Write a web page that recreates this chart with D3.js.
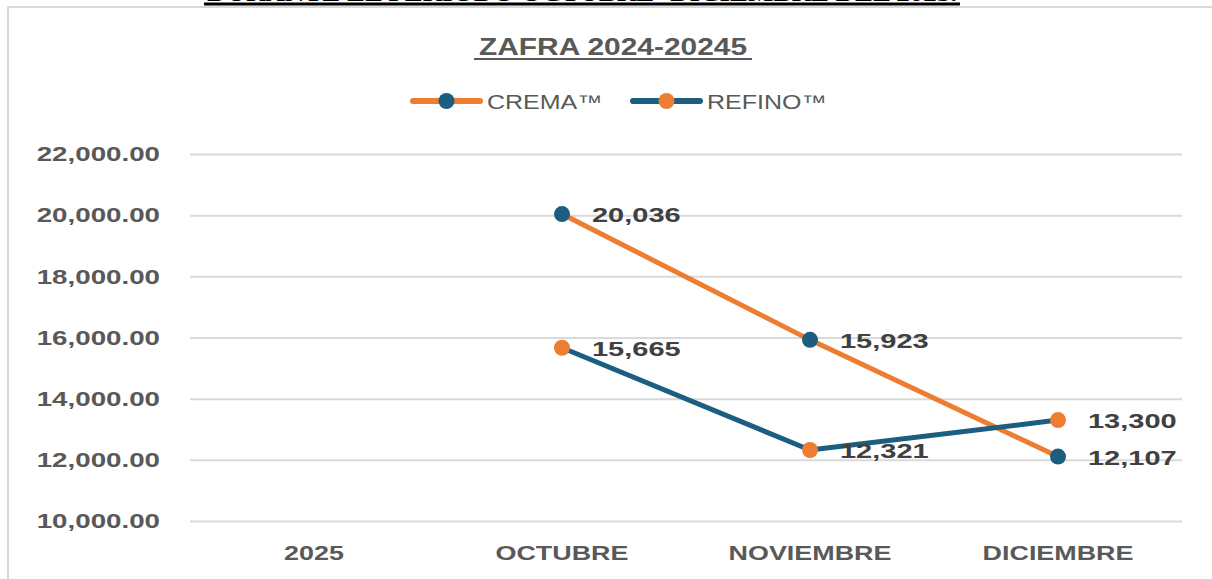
<!DOCTYPE html>
<html>
<head>
<meta charset="utf-8">
<script src="https://cdn.jsdelivr.net/npm/d3@7"></script>
<style>
    body { margin: 0; background: #fff; }
    svg { display: block; }
</style>
</head>
<body>
<svg id="chart"></svg>
<script>
// chart data
let categories = ["2025", "OCTUBRE", "NOVIEMBRE", "DICIEMBRE"];
let cremaValues = [null, 20036, 15923, 12107];
let refinoValues = [null, 15665, 12321, 13300];
let seriesNames = ["CREMA\u2122", "REFINO\u2122"];
let yTicks = [10000, 12000, 14000, 16000, 18000, 20000, 22000];
let headerText = "DURANTE EL PERIODO OCTUBRE- DICIEMBRE DEL 2025.";
let titleText = "ZAFRA 2024-20245";

let w = 1212, h = 579;
let orange = "#ED7D31", blue = "#1B5E80";

let svg = d3.select("#chart").attr("width", w).attr("height", h);

// text in the picture is wider than the fonts we have, so stretch it
function stretch(sel, k) {
    sel.each(function () {
        let len = this.getComputedTextLength();
        d3.select(this).attr("textLength", len * k).attr("lengthAdjust", "spacingAndGlyphs");
    });
}

// header cut off at the top of the image
svg.append("text")
    .attr("x", 582).attr("y", 1)
    .attr("text-anchor", "middle")
    .style("font-family", "'Liberation Serif', serif")
    .style("font-weight", "bold")
    .style("font-size", "22px")
    .attr("textLength", 750)
    .attr("lengthAdjust", "spacingAndGlyphs")
    .text(headerText);
svg.append("rect")
    .attr("x", 204).attr("y", 2.5)
    .attr("width", 756).attr("height", 3)
    .attr("fill", "#000");

// chart frame
svg.append("rect")
    .attr("x", 8).attr("y", 7)
    .attr("width", w + 20).attr("height", h + 20)
    .attr("fill", "none")
    .attr("stroke", "#d9d9d9")
    .attr("stroke-width", 2);

// title
let title = svg.append("text")
    .attr("x", 613).attr("y", 55)
    .attr("text-anchor", "middle")
    .style("font-family", "'Liberation Sans', Arial, sans-serif")
    .style("font-weight", "bold")
    .style("font-size", "23px")
    .attr("fill", "#595959")
    .text(titleText);
stretch(title, 1.3);
svg.append("rect")
    .attr("x", 474).attr("y", 58)
    .attr("width", 278).attr("height", 2)
    .attr("fill", "#595959");

// scales
let x = d3.scaleBand().domain(categories).range([190, 1182]);
let y = d3.scaleLinear().domain([10000, 22000]).range([521, 154]);
let cx = function (c) { return x(c) + x.bandwidth() / 2; };

// y axis + gridlines
let yAxis = d3.axisLeft(y)
    .tickValues(yTicks)
    .tickSize(-(1182 - 190))
    .tickPadding(30)
    .tickFormat(d3.format(",.2f"));

let gy = svg.append("g")
    .attr("transform", "translate(190,0)")
    .call(yAxis);
gy.select(".domain").remove();
gy.selectAll(".tick line")
    .attr("stroke", "#d9d9d9")
    .attr("stroke-width", 2);
gy.selectAll(".tick text")
    .attr("x", -30)
    .attr("fill", "#595959")
    .style("font-family", "'Liberation Sans', Arial, sans-serif")
    .style("font-weight", "bold")
    .style("font-size", "21px");
stretch(gy.selectAll(".tick text"), 1.32);

// x axis
let xAxis = d3.axisBottom(x).tickSize(0).tickPadding(24);
let gx = svg.append("g")
    .attr("transform", "translate(0,521)")
    .call(xAxis);
gx.select(".domain").remove();
gx.selectAll(".tick text")
    .attr("fill", "#595959")
    .style("font-family", "'Liberation Sans', Arial, sans-serif")
    .style("font-weight", "bold")
    .style("font-size", "21px");
stretch(gx.selectAll(".tick text"), 1.28);

// series
let series = [
    { name: seriesNames[0], values: cremaValues, line: orange, marker: blue },
    { name: seriesNames[1], values: refinoValues, line: blue, marker: orange }
];

let line = d3.line()
    .defined(function (d) { return d.v != null; })
    .x(function (d) { return cx(d.c); })
    .y(function (d) { return y(d.v); });

series.forEach(function (s) {
    let pts = categories.map(function (c, i) { return { c: c, v: s.values[i] }; });
    svg.append("path")
        .datum(pts)
        .attr("d", line)
        .attr("fill", "none")
        .attr("stroke", s.line)
        .attr("stroke-width", 5)
        .attr("stroke-linejoin", "round");
    s.pts = pts.filter(function (d) { return d.v != null; });
});

series.forEach(function (s) {
    svg.append("g").selectAll("circle")
        .data(s.pts)
        .enter()
        .append("circle")
        .attr("cx", function (d) { return cx(d.c); })
        .attr("cy", function (d) { return y(d.v); })
        .attr("r", 8)
        .attr("fill", s.marker);
});

series.forEach(function (s) {
    let labels = svg.append("g").selectAll("text")
        .data(s.pts)
        .enter()
        .append("text")
        .attr("x", function (d) { return cx(d.c) + 30; })
        .attr("y", function (d) { return y(d.v) + 8; })
        .attr("fill", "#404040")
        .style("font-family", "'Liberation Sans', Arial, sans-serif")
        .style("font-weight", "bold")
        .style("font-size", "21px")
        .text(function (d) { return d3.format(",")(d.v); });
    stretch(labels, 1.38);
});

// legend
let legendX = [410, 630];
series.forEach(function (s, i) {
    let g = svg.append("g").attr("transform", "translate(" + legendX[i] + ",101)");
    g.append("line")
        .attr("x1", 3).attr("x2", 70)
        .attr("stroke", s.line)
        .attr("stroke-width", 6)
        .attr("stroke-linecap", "round");
    g.append("circle")
        .attr("cx", 36.5)
        .attr("r", 8)
        .attr("fill", s.marker);
    let t = g.append("text")
        .attr("x", 77).attr("y", 7.5)
        .attr("fill", "#595959")
        .style("font-family", "'Liberation Sans', Arial, sans-serif")
        .style("font-size", "20px")
        .text(s.name);
    stretch(t, 1.25);
});
</script>
</body>
</html>
